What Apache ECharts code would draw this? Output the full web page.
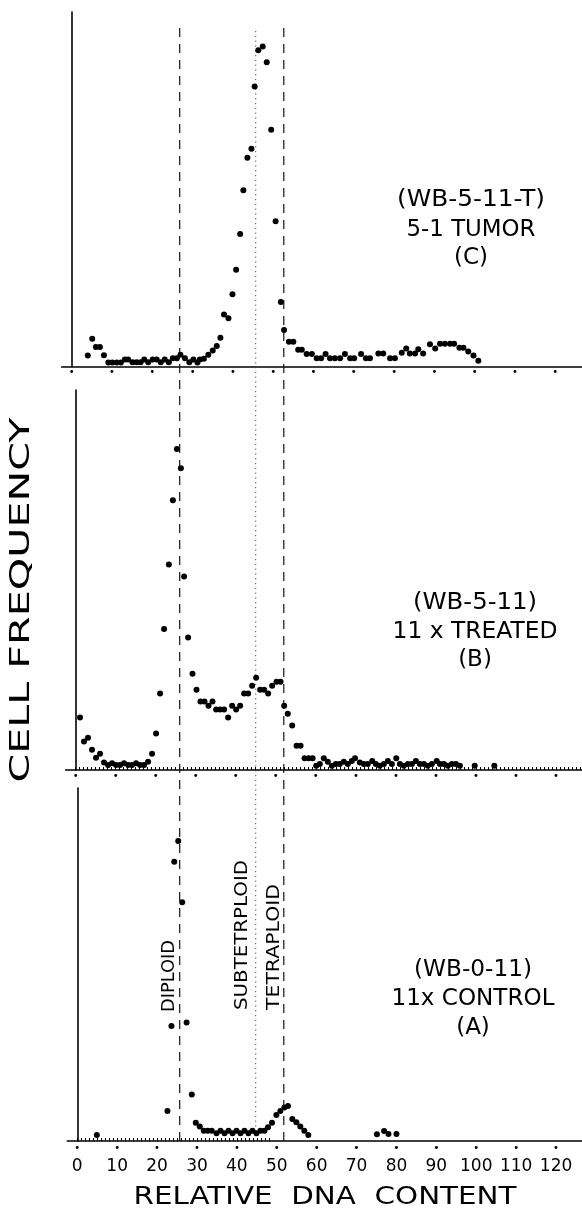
<!DOCTYPE html>
<html><head><meta charset="utf-8">
<script src="https://cdn.jsdelivr.net/npm/echarts@6/dist/echarts.min.js"></script>
<style>html,body{margin:0;padding:0;background:#fff}#c{width:582px;height:1215px}</style>
</head><body><div id="c"></div>
<script>
// ---- data (x = relative DNA content, y = cell frequency, arbitrary units 0-100) ----
const xTickValues = [0,10,20,30,40,50,60,70,80,90,100,110,120];
const refLineValues = [26, 45, 52];
const refLineNames = ['DIPLOID', 'SUBTETRPLOID', 'TETRAPLOID'];
const labelsC = ['(WB-5-11-T)', '5-1 TUMOR', '(C)'];
const labelsB = ['(WB-5-11)', '11 x TREATED', '(B)'];
const labelsA = ['(WB-0-11)', '11x CONTROL', '(A)'];
const yTitle = 'CELL FREQUENCY';
const xTitle = 'RELATIVE  DNA  CONTENT';

// panel C: 5-1 tumor
const tumorC = [
 [4.0,3.1],[5.1,7.8],[6.0,5.5],[7.0,5.5],[8.0,3.2],
 [9.1,1.1],[10.1,1.1],[11.2,1.1],[12.2,1.1],[13.2,2.0],[14.0,2.0],[15.1,1.2],[16.1,1.2],[17.1,1.2],
 [18.0,2.0],[19.0,1.2],[20.1,2.0],[21.1,2.0],[22.1,1.2],[23.1,2.0],[24.1,1.2],[25.1,2.3],[26.1,2.3],
 [27.0,3.3],[28.1,2.3],[29.2,1.2],[30.2,2.0],[31.2,1.1],[31.8,2.0],[32.8,2.2],[33.9,3.3],[35.0,4.5],
 [36.0,5.8],[36.9,8.1],[37.8,14.7],[38.9,13.6],[39.9,20.4],[40.8,27.3],[41.8,37.4],[42.6,49.7],
 [43.6,58.9],[44.6,61.4],[45.4,79.0],[46.3,89.2],[47.4,90.3],[48.4,85.8],[49.5,66.8],[50.6,41.0],
 [51.9,18.2],[52.7,10.3],[53.9,7.0],[55.0,7.0],[56.2,4.7],[57.1,4.7],[58.3,3.5],[59.6,3.5],[60.8,2.3],
 [61.9,2.3],[63.0,3.5],[64.1,2.3],[65.3,2.3],[66.6,2.3],[67.8,3.5],[69.1,2.3],[70.1,2.3],[71.8,3.5],
 [73.0,2.3],[74.0,2.3],[76.1,3.7],[77.3,3.7],[79.0,2.3],[80.2,2.3],[81.9,3.9],[83.0,5.1],[83.9,3.7],
 [85.2,3.7],[86.0,4.9],[87.2,3.7],[88.9,6.3],[90.2,5.1],[91.4,6.4],[92.6,6.4],[93.9,6.4],[94.9,6.4],
 [96.2,5.3],[97.2,5.3],[98.4,4.2],[99.7,3.1],[100.9,1.6]
];

// panel B: 11x treated
const treatedB = [
 [1.1,13.8],[2.1,7.5],[3.1,8.5],[4.1,5.3],[5.1,3.2],[6.1,4.3],[7.1,2.0],
 [8.1,1.3],[9.1,1.8],[10.1,1.3],[11.1,1.3],[12.1,1.8],[13.1,1.3],[14.1,1.3],[15.1,1.8],[16.1,1.3],
 [17.1,1.3],[18.1,2.2],[19.1,4.3],[20.1,9.6],[21.1,20.1],[22.1,37.1],[23.3,54.1],[24.3,71.0],
 [25.3,84.5],[26.3,79.4],[27.1,50.9],[28.1,34.9],[29.2,25.3],[30.2,21.1],[31.2,18.0],[32.2,18.0],
 [33.2,16.9],[34.2,18.0],[35.1,15.9],[36.1,15.9],[37.1,15.9],[38.1,13.8],[39.1,16.9],[40.1,15.9],
 [41.1,16.9],[42.1,20.1],[43.1,20.1],[44.1,22.2],[45.1,24.3],[46.1,21.1],[47.1,21.1],[48.1,20.1],
 [49.1,22.2],[50.2,23.2],[51.2,23.2],[52.1,16.9],[53.0,14.8],[54.1,11.7],[55.2,6.4],[56.2,6.4],
 [57.2,3.1],[58.2,3.1],[59.2,3.1],[60.1,1.1],[61.0,1.6],[62.0,3.1],[63.0,2.2],[64.0,1.1],[65.0,1.6],
 [66.0,1.6],[67.0,2.2],[68.0,1.6],[69.0,2.4],[69.8,3.1],[71.0,2.0],[72.0,1.6],[73.0,1.6],[74.1,2.4],
 [75.0,1.6],[76.0,1.1],[77.0,1.6],[78.0,2.4],[79.0,1.6],[80.1,3.1],[81.0,1.6],[82.0,1.1],[83.0,1.6],
 [84.0,1.6],[85.0,2.4],[86.0,1.6],[87.0,1.6],[88.0,1.1],[89.0,1.6],[90.2,2.4],[91.0,1.6],[92.0,1.6],
 [93.0,1.1],[94.0,1.6],[95.0,1.6],[96.0,1.1],[99.7,1.1],[104.6,1.1]
];

// panel A: 11x control
const controlA = [
 [4.9,1.7],[22.6,8.5],[23.6,32.6],[24.3,79.1],[25.3,85.0],[26.3,67.6],[27.4,33.6],[28.7,13.2],
 [29.7,5.2],[30.7,4.1],[31.7,2.9],[32.7,2.9],[33.7,2.9],[34.9,2.2],[35.9,2.9],[36.9,2.2],[37.9,2.9],
 [38.9,2.2],[39.9,2.9],[40.9,2.2],[41.9,2.9],[42.9,2.2],[43.9,2.9],[44.9,2.2],[45.9,2.9],[46.9,2.9],
 [47.8,3.9],[48.8,5.2],[49.9,7.4],[50.9,8.5],[51.9,9.5],[52.8,9.9],[53.9,6.2],[54.9,5.3],[55.9,4.1],
 [56.9,2.9],[57.9,1.7],[75.1,1.9],[76.9,2.8],[78.0,2.0],[80.0,2.0]
];

const minorTicksB = []; for (let i = 0; i <= 126; i++) minorTicksB.push(i);
const minorTicksA = []; for (let i = 0; i <= 48; i++) minorTicksA.push(i);

const FONT = '"DejaVu Sans", sans-serif';
const measureCtx = document.createElement('canvas').getContext('2d');
function widthOf(txt, size) { measureCtx.font = size + 'px ' + FONT; return measureCtx.measureText(txt).width; }

const chart = echarts.init(document.getElementById('c'), null, {renderer: 'canvas'});

function xAxisFor(gi, minorTicks, bottom) {
  return {
    type: 'value', gridIndex: gi, min: -2.5, max: 126.5,
    axisLine: {show: true, onZero: false, lineStyle: {color: '#000', width: 1.6}},
    splitLine: {show: false},
    axisTick: minorTicks ? {show: true, inside: true, length: 3, customValues: minorTicks,
      lineStyle: {color: '#000', width: 1}} : {show: false},
    axisLabel: {
      show: true, customValues: xTickValues, margin: bottom ? 2 : 1, color: '#000',
      formatter: bottom ? (v => '{d|•}\n{n|' + v + '}') : (() => '{d|•}'),
      rich: {
        d: {fontSize: 10, lineHeight: 10, color: '#000', fontFamily: FONT},
        n: {fontSize: 17, lineHeight: 24, color: '#000', fontFamily: FONT, padding: [3, 0, 0, 0]}
      }
    }
  };
}
function yAxisFor(gi) {
  return {
    type: 'value', gridIndex: gi, min: 0, max: 100,
    axisLine: {show: true, lineStyle: {color: '#000', width: 1.6}},
    axisTick: {show: false}, axisLabel: {show: false}, splitLine: {show: false}
  };
}
function scatter(gi, data) {
  return {type: 'scatter', xAxisIndex: gi, yAxisIndex: gi, data: data, symbol: 'circle',
    symbolSize: 6, itemStyle: {color: '#000', opacity: 1}, silent: true, z: 3};
}
const refStyles = [
  {type: [9, 7], width: 1.2, color: '#111'},
  {type: [1.2, 3.6], width: 1, color: '#444'},
  {type: [9, 7], width: 1.2, color: '#111'}
];
const refSeries = refLineValues.map((v, i) => ({
  type: 'line', xAxisIndex: 3, yAxisIndex: 3, data: [[v, 0], [v, 1]], symbol: 'none',
  lineStyle: refStyles[i], silent: true, z: 1
}));

function textEl(txt, x, y, size, rot, targetW) {
  const sx = targetW ? targetW / widthOf(txt, size) : 1;
  return {type: 'text', x: x, y: y, rotation: rot || 0, scaleX: sx, silent: true,
    style: {text: txt, font: size + 'px ' + FONT, fill: '#000', textAlign: 'center', textVerticalAlign: 'middle'}};
}
const graphics = [];
[[labelsC, 471, [200, 230, 258], [148, 129, 0]],
 [labelsB, 475, [603, 632, 660], [124, 165, 0]],
 [labelsA, 473, [970, 999, 1028], [118, 163, 0]]]
  .forEach(([lab, cx, ys, ws]) => lab.forEach((t, i) => graphics.push(textEl(t, cx, ys[i], 23, 0, ws[i]))));
const refLabelPos = [[170, 976, 72], [243, 935, 150], [275, 947, 126]];
refLineNames.forEach((t, i) => graphics.push(textEl(t, refLabelPos[i][0], refLabelPos[i][1], 17, Math.PI / 2, refLabelPos[i][2])));
graphics.push(textEl(yTitle, 22, 600, 26, Math.PI / 2, 365));
graphics.push(textEl(xTitle, 325, 1198, 24, 0, 383));

chart.setOption({
  animation: false,
  backgroundColor: '#fff',
  grid: [
    {left: 61.6, width: 519.9, top: 12, height: 354.5},
    {left: 65.6, width: 521.2, top: 390, height: 380},
    {left: 67.3, width: 516, top: 788, height: 353},
    {left: 65.6, width: 521.2, top: 28, height: 1113}
  ],
  xAxis: [
    xAxisFor(0, null, false),
    xAxisFor(1, minorTicksB, false),
    xAxisFor(2, minorTicksA, true),
    {type: 'value', gridIndex: 3, min: -2.5, max: 126.5, show: false}
  ],
  yAxis: [yAxisFor(0), yAxisFor(1), yAxisFor(2),
    {type: 'value', gridIndex: 3, min: 0, max: 1, show: false}],
  series: [scatter(0, tumorC), scatter(1, treatedB), scatter(2, controlA)].concat(refSeries),
  graphic: graphics
});
</script></body></html>
